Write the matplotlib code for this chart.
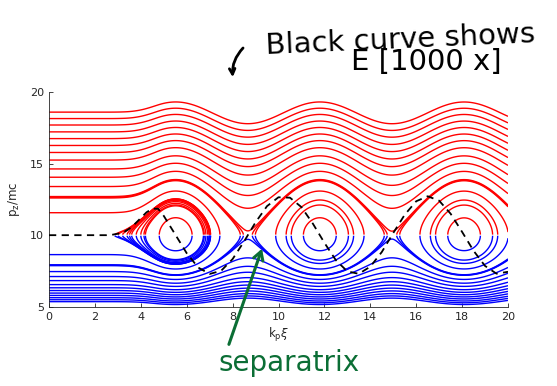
import numpy as np
import matplotlib
matplotlib.use('Agg')
import matplotlib.pyplot as plt

# dashed curve: 10 + 1000*E
xi_e = [0, 2.5, 2.75, 3.0, 3.25, 3.5, 3.75, 4.0, 4.25, 4.5, 4.75, 5.0, 5.5,
        6.0, 6.5, 7.0, 7.5, 8.0, 8.5, 9.0, 9.5, 10.0, 10.5, 11.0, 11.5, 12.0,
        12.5, 13.0, 13.5, 14.0, 14.5, 15.0, 15.5, 16.0, 16.5, 17.0, 17.5, 18.0,
        18.5, 19.0, 19.5, 20.0]
e_plot = [10.0, 10.0, 10.03, 10.1, 10.2, 10.45, 10.8, 11.2, 11.6, 11.85, 11.85, 11.35, 10.05,
          8.74, 7.74, 7.29, 7.51, 8.33, 9.56, 10.9, 12.03, 12.65, 12.62, 11.96, 10.8, 9.47,
          8.25, 7.47, 7.3, 7.8, 8.82, 10.15, 11.43, 12.37, 12.72, 12.41, 11.5, 10.23,
          8.91, 7.85, 7.31, 7.44]

# wave phase velocity: resonant momentum p = 10
p_res = 10.0
# momenta of the passing orbits at the left edge (upper branch)
p_left = [18.6, 18.15, 17.7, 17.22, 16.75, 16.27, 15.78, 15.25, 14.63, 14.05, 13.4,
          12.7, 12.65, 12.6, 11.57]
# orbits launched at p = 10 inside the first bucket (start position)
xi_fan = [2.85, 3.0, 3.2, 3.4, 3.6, 3.8, 4.0, 4.2]
# trapped orbits, given by their top momentum at the bucket centre
p_ring = [11.22, 12.11, 12.46]

beta = p_res / np.sqrt(1 + p_res ** 2)


def f(p):
    p = np.asarray(p, dtype=float)
    return np.sqrt(1 + p ** 2) - beta * p


# potential from the field, H = gamma - beta*p - psi is constant on an orbit
xi = np.linspace(0, 20, 1001)
E = (np.interp(xi, xi_e, e_plot) - 10) / 1000
psi = np.concatenate([[0], np.cumsum(0.5 * (E[1:] + E[:-1]) * np.diff(xi))])
psi_o = psi.max()
i_x = np.argmin(np.where(xi < 11, psi, np.inf))  # first X-point

f0 = f(p_res)
lev_all = np.unique(np.concatenate([f(p_left), f(p_ring) - psi_o]))
lev_fan = np.unique(f0 - np.interp(xi_fan, xi, psi))

p_up = np.linspace(p_res + 0.04, 20, 1500)
p_dn = np.linspace(4.8, p_res - 0.04, 1500)

fig = plt.figure(figsize=(5.57, 3.86), dpi=100)
ax = fig.add_axes([0.088, 0.2054, 0.824, 0.556])

for pp, col in [(p_up, 'red'), (p_dn, 'blue')]:
    H = f(pp)[:, None] - psi[None, :]
    ax.contour(xi, pp, H, levels=lev_all, colors=col, linewidths=1.0)
    ax.contour(xi[:i_x + 1], pp, H[:, :i_x + 1], levels=lev_fan, colors=col, linewidths=1.0)

ax.plot(xi_e, e_plot, color='k', ls='--', lw=1.3, dashes=(4, 3), zorder=5)

ax.set_xlim(0, 20)
ax.set_ylim(5, 20)
ax.set_xticks(np.arange(0, 21, 2))
ax.set_yticks([5, 10, 15, 20])
ax.tick_params(direction='in', length=3, width=0.6, labelsize=8, colors='0.15')
for s in ['top', 'right']:
    ax.spines[s].set_visible(False)
for s in ['left', 'bottom']:
    ax.spines[s].set_color('0.15')
    ax.spines[s].set_linewidth(0.6)
ax.set_xlabel(r'k$_\mathrm{p}$$\xi$', fontsize=8.5, color='0.15', labelpad=3)
ax.set_ylabel(r'p$_\mathrm{z}$/mc', fontsize=8.5, color='0.15', labelpad=6)

# handwritten notes
fig.text(400, 386 - 40, 'Black curve shows', transform=None, fontsize=21,
         ha='center', va='center', rotation=2.5, color='k')
fig.text(426, 386 - 62, 'E [1000 x]', transform=None, fontsize=21,
         ha='center', va='center', color='k')
ax.annotate('', xy=(233, 386 - 80), xycoords='figure pixels',
            xytext=(245, 386 - 46), textcoords='figure pixels',
            arrowprops=dict(arrowstyle='->', lw=2, color='k',
                            connectionstyle='arc3,rad=0.25'))

green = '#0b6e35'
fig.text(289, 386 - 363, 'separatrix', transform=None, fontsize=20,
         ha='center', va='center', color=green)
ax.annotate('', xy=(9.32, 9.24), xycoords='data',
            xytext=(228, 386 - 347), textcoords='figure pixels',
            arrowprops=dict(arrowstyle='->,head_length=0.6,head_width=0.35',
                            lw=2.2, color=green), annotation_clip=False)

fig.savefig('out.png', dpi=100)
